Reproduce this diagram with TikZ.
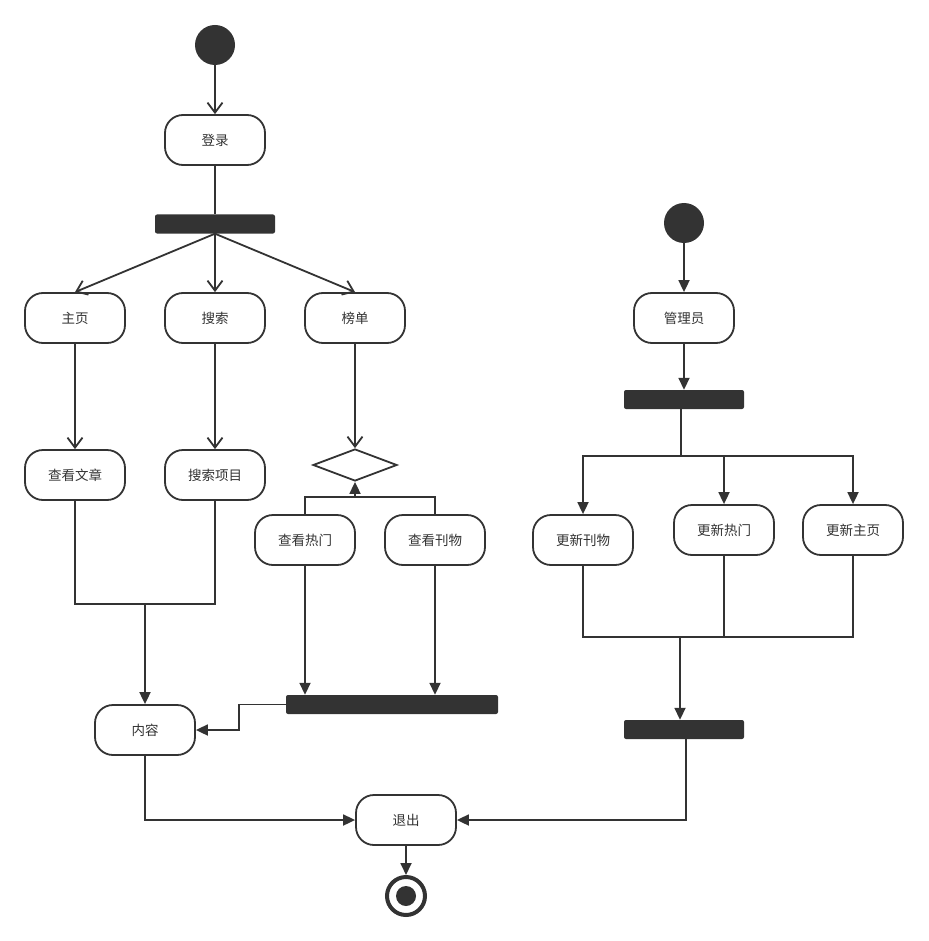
\documentclass[tikz,border=0pt]{standalone}
\usepackage{fontspec}
\setmainfont{Noto Sans CJK SC}
\usetikzlibrary{arrows.meta,shapes.geometric}
\definecolor{ink}{HTML}{333333}
\begin{document}
\begin{tikzpicture}[x=1pt,y=-1pt,
 act/.style={draw=ink,line width=1.8pt,rounded corners=18pt,minimum width=100pt,minimum height=50pt,inner sep=0pt,font=\fontsize{13.5}{15}\selectfont,text=ink},
 bar/.style={fill=ink,draw=none,rounded corners=2pt,inner sep=0pt,minimum height=19pt},
 ln/.style={draw=ink,line width=1.8pt},
 openarr/.style={ln,-{Straight Barb[length=10pt,width=15pt]}},
 fillarr/.style={ln,-{Triangle[length=12pt,width=11pt]}},
 startdot/.style={circle,fill=ink,minimum size=40pt,inner sep=0pt},
]
\fill[white] (0,0) rectangle (928,941);
\useasboundingbox (0,0) rectangle (928,941);

% left flow
\node[startdot] (s1) at (215,45) {};
\node[act] (login) at (215,140) {登录};
\node[bar,minimum width=120pt] (f1) at (215,224) {};
\node[act] (home) at (75,318) {主页};
\node[act] (search) at (215,318) {搜索};
\node[act] (rank) at (355,318) {榜单};
\node[act] (view) at (75,475) {查看文章};
\node[act] (sitem) at (215,475) {搜索项目};
\node[diamond,draw=ink,line width=1.8pt,minimum width=84pt,minimum height=32pt,aspect=2.6,inner sep=0pt] (dec) at (355,465) {};
\node[act] (hot) at (305,540) {查看热门};
\node[act] (mag) at (435,540) {查看刊物};
\node[bar,minimum width=212pt] (b2) at (392,704.5) {};
\node[act] (content) at (145,730) {内容};
\node[act] (exit) at (406,820) {退出};
\node[circle,draw=ink,line width=4pt,minimum size=38pt,inner sep=0pt] (e) at (406,896) {};
\node[circle,fill=ink,minimum size=20pt,inner sep=0pt] (ei) at (406,896) {};

\draw[openarr] (s1) -- (login);
\draw[ln] (login) -- (f1);
\draw[openarr] (f1.south) -- (home.north);
\draw[openarr] (f1.south) -- (search.north);
\draw[openarr] (f1.south) -- (rank.north);
\draw[openarr] (home) -- (view);
\draw[openarr] (search) -- (sitem);
\draw[openarr] (rank) -- (dec);
\coordinate (j1) at (355,497);
\draw[ln] (hot.north) |- (j1) -| (mag.north);
\draw[fillarr] (j1) -- (dec.south);
\coordinate (j2) at (145,604);
\draw[ln] (view.south) |- (j2) -| (sitem.south);
\draw[fillarr] (j2) -- (content.north);
\draw[fillarr] (hot.south) -- (hot.south |- b2.north);
\draw[fillarr] (mag.south) -- (mag.south |- b2.north);
\draw[fillarr] (b2.west) -- ++(-47,0) |- (content.east);
\draw[fillarr] (content.south) |- (exit.west);
\draw[fillarr] (exit) -- (e);

% right flow
\node[startdot] (s2) at (684,223) {};
\node[act] (admin) at (684,318) {管理员};
\node[bar,minimum width=120pt] (b3) at (684,399.5) {};
\node[act] (upub) at (583,540) {更新刊物};
\node[act] (uhot) at (724,530) {更新热门};
\node[act] (uhome) at (853,530) {更新主页};
\node[bar,minimum width=120pt] (b4) at (684,729.5) {};

\draw[fillarr] (s2) -- (admin);
\draw[fillarr] (admin) -- (b3);
\coordinate (j3) at (681,456);
\draw[ln] (b3.south -| j3) -- (j3);
\draw[fillarr] (j3) -| (upub.north);
\draw[fillarr] (j3) -| (uhome.north);
\draw[fillarr] (uhot.north |- j3) -- (uhot.north);
\coordinate (j4) at (680,637);
\draw[ln] (upub.south) |- (uhome.south |- j4) -- (uhome.south);
\draw[ln] (uhot.south) -- (uhot.south |- j4);
\draw[fillarr] (j4) -- (j4 |- b4.north);
\coordinate (j5) at (686,820);
\draw[fillarr] (b4.south -| j5) -- (j5) -- (exit.east);
\end{tikzpicture}
\end{document}
